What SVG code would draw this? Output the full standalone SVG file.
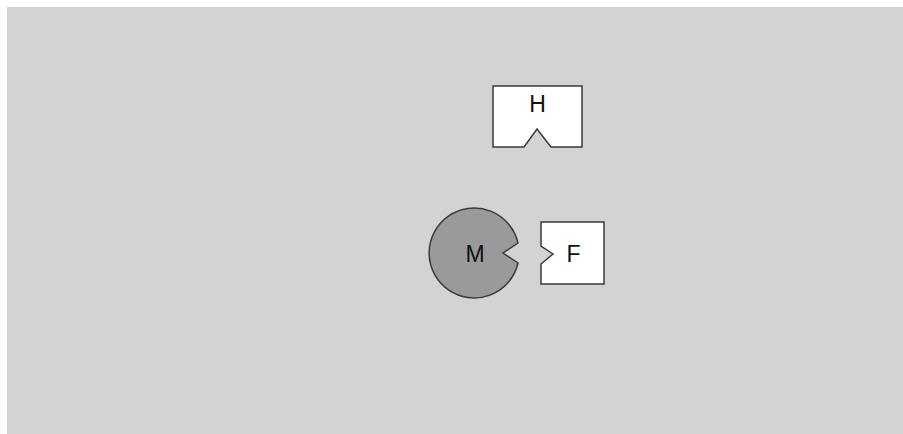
<svg xmlns="http://www.w3.org/2000/svg" width="903" height="434" viewBox="0 0 903 434">
<style>
.shape{stroke:#3a3a3a;stroke-width:1.5;stroke-linejoin:miter}
.box{fill:#ffffff}
.disc{fill:#9a9a9a}
.lbl{font-family:"Liberation Sans",Arial,sans-serif;font-size:23px;fill:#111111;text-anchor:middle}
</style>
<rect x="0" y="0" width="903" height="434" fill="#ffffff"/>
<rect x="7" y="7" width="896" height="427" fill="#d3d3d3"/>
<g id="node-H">
<path class="shape box" d="M493,86 L582,86 L582,147 L551,147 L537,129 L524,147 L493,147 Z"/>
<text class="lbl" x="537.5" y="112">H</text>
</g>
<g id="node-M">
<path class="shape disc" d="M518,243 A45,45 0 1 0 518,263 L503,253 Z"/>
<text class="lbl" x="475" y="262">M</text>
</g>
<g id="node-F">
<path class="shape box" d="M541,222 L604,222 L604,284 L541,284 L541,264 L553,254 L541,246 Z"/>
<text class="lbl" x="573.5" y="262">F</text>
</g>
<g id="connectors"></g>
</svg>
